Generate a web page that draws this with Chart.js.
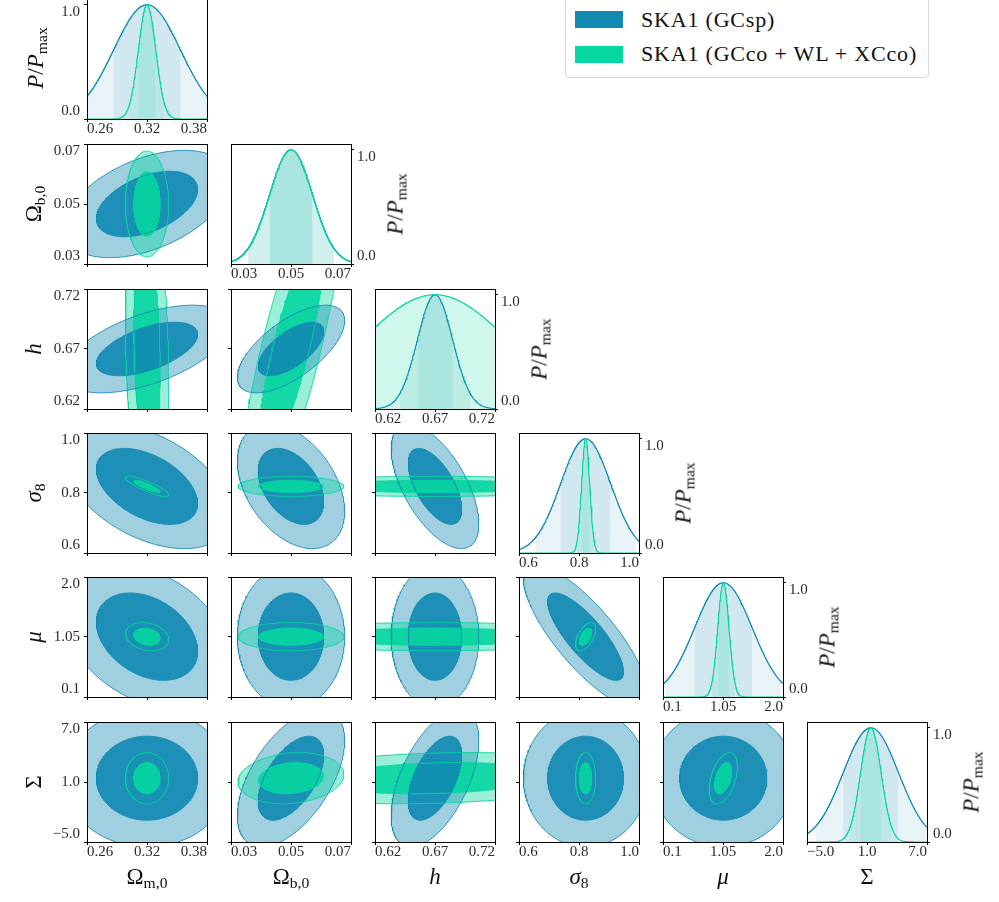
<!DOCTYPE html>
<html>
<head>
<meta charset="utf-8">
<script src="https://cdn.jsdelivr.net/npm/chart.js@4.4.1/dist/chart.umd.min.js"></script>
<style>
html,body{margin:0;padding:0;background:#fff;}
#root{position:relative;width:999px;height:902px;overflow:hidden;background:#fff;font-family:'Liberation Serif','DejaVu Serif',serif;}
#root canvas{position:absolute;}
.lbl{position:absolute;white-space:nowrap;font-size:23px;line-height:23px;color:#111;}
.lbl sub{font-size:0.68em;vertical-align:-0.28em;line-height:0;}
.bot{transform:translateX(-50%);}
.rot{transform:translate(-50%,-50%) rotate(-90deg);}
.legend{position:absolute;left:565px;top:-10px;width:364px;height:88px;box-sizing:border-box;border:1px solid #d6d6d6;border-radius:4px;background:#fff;}
.legend .item{position:absolute;left:9px;height:17px;width:48px;}
.legend .txt{position:absolute;left:75px;font-size:22px;line-height:22px;letter-spacing:0.8px;color:#111;white-space:nowrap;}
</style>
</head>
<body>
<div id="root"></div>
<script>
// ---------------- data ----------------
const paramLabelsHTML = ['Ω<sub>m,0</sub>', 'Ω<sub>b,0</sub>', '<i>h</i>', '<i>σ</i><sub>8</sub>', '<i>μ</i>', 'Σ'];
const tickLabels = [
  ['0.26', '0.32', '0.38'],
  ['0.03', '0.05', '0.07'],
  ['0.62', '0.67', '0.72'],
  ['0.6', '0.8', '1.0'],
  ['0.1', '1.05', '2.0'],
  ['\u22125.0', '1.0', '7.0']
];
const probTickLabels = ['0.0', '1.0'];
const probTickValues = [0, 1];
const fiducial = [0.32, 0.05, 0.67, 0.822, 1.055, 1.38];
const sigmaGCsp = [0.0334, 0.0072, 0.0147, 0.0835, 0.456, 2.77];
const sigmaCombo = [0.0087, 0.0071, 0.061, 0.0135, 0.09, 1.03];
const pairs = [[0,1],[0,2],[0,3],[0,4],[0,5],[1,2],[1,3],[1,4],[1,5],[2,3],[2,4],[2,5],[3,4],[3,5],[4,5]];
const rhoGCsp  = [0.45, 0.55, -0.45, -0.33, 0.0, 0.65, -0.4, 0.0, 0.55, -0.6, 0.0, 0.55, -0.8, 0.0, 0.0];
const rhoCombo = [0.0, -0.2, -0.85, -0.2, 0.0, 0.82, 0.0, 0.0, 0.15, 0.0, 0.0, 0.2, 0.55, 0.0, 0.45];
const surveyNames = ['SKA1 (GCsp)', 'SKA1 (GCco + WL + XCco)'];
const surveyColors = ['#118ab2', '#06d6a0'];
const chi2Levels = [2.30, 6.17];   // 68% and 95% for 2 parameters

// ---------------- layout ----------------
const COL_LEFT = [87, 231, 375, 519, 663, 807];
const ROW_TOP = [-1, 144, 289, 433, 577, 722];
const PW = 120, PH = 120;
const ML = 50, MR = 60, MT = 12, MB = 24;
const FONT = "'Liberation Serif','DejaVu Serif',serif";
const TICK_COLOR = '#2a2a2a';
const CLEAR = 'rgba(0,0,0,0)';

const surveys = [
  {sig: sigmaGCsp, rho: rhoGCsp, color: surveyColors[0]},
  {sig: sigmaCombo, rho: rhoCombo, color: surveyColors[1]}
];

function toNum(s) { return parseFloat(s.replace('\u2212', '-')); }
function rgba(hex, a) {
  const r = parseInt(hex.slice(1,3),16), g = parseInt(hex.slice(3,5),16), b = parseInt(hex.slice(5,7),16);
  return `rgba(${r},${g},${b},${a})`;
}
function rhoOf(s, i, j) {
  const a = Math.min(i,j), b = Math.max(i,j);
  for (let n = 0; n < pairs.length; n++) if (pairs[n][0] === a && pairs[n][1] === b) return s.rho[n];
  return 0;
}
function ellipsePoints(mx, my, sx, sy, rho, k) {
  const r = Math.sqrt(k), q = Math.sqrt(1 - rho*rho), N = 241, pts = [];
  for (let n = 0; n < N; n++) {
    const t = 2*Math.PI*n/(N-1), c = Math.cos(t), s = Math.sin(t);
    pts.push({x: mx + r*sx*c, y: my + r*sy*(rho*c + q*s)});
  }
  return pts;
}
function gaussPoints(m, s, a, b) {
  const N = 240, pts = [];
  for (let n = 0; n <= N; n++) {
    const x = a + (b - a)*n/N;
    pts.push({x: x, y: Math.exp(-0.5*((x-m)/s)*((x-m)/s))});
  }
  return pts;
}

const framePlugin = {
  id: 'frame',
  afterDatasetsDraw(chart) {
    const {ctx, chartArea: a} = chart;
    ctx.save();
    ctx.strokeStyle = '#000';
    ctx.lineWidth = 1;
    ctx.strokeRect(a.left + 0.5, a.top + 0.5, a.right - a.left, a.bottom - a.top);
    ctx.restore();
  }
};

function xScale(p, show) {
  const vals = tickLabels[p].map(toNum);
  return {
    type: 'linear', position: 'bottom', min: vals[0], max: vals[vals.length-1],
    afterBuildTicks: s => { s.ticks = vals.map(v => ({value: v})); },
    afterFit: s => { s.height = MB; s.paddingLeft = 0; s.paddingRight = 0; s.paddingTop = 0; s.paddingBottom = 0; },
    ticks: {autoSkip: false, maxRotation: 0, minRotation: 0, align: 'inner', padding: 0,
      color: TICK_COLOR, font: {family: FONT, size: 15, lineHeight: 1.0},
      callback: (v, idx) => show ? tickLabels[p][idx] : ''},
    grid: {display: true, drawOnChartArea: false, drawTicks: true, tickLength: 3, color: '#000', lineWidth: 1},
    border: {display: true, color: '#000', width: 1}
  };
}
function yScale(min, max, vals, labels, pos, show) {
  return {
    type: 'linear', position: pos, min: min, max: max,
    afterBuildTicks: s => { s.ticks = vals.map(v => ({value: v})); },
    afterFit: s => { s.width = (pos === 'left' ? ML : MR); s.paddingTop = 0; s.paddingBottom = 0; s.paddingLeft = 0; s.paddingRight = 0; },
    ticks: {autoSkip: false, padding: pos === 'left' ? 4 : 3,
      color: TICK_COLOR, font: {family: FONT, size: 15, lineHeight: 1.0},
      callback: (v, idx, arr) => {
        if (!show) return '';
        const L = labels[idx];
        if (idx === 0) return [L, ''];
        if (idx === arr.length - 1) return ['', L];
        return L;
      }},
    grid: {display: true, drawOnChartArea: false, drawTicks: true, tickLength: 3, color: '#000', lineWidth: 1},
    border: {display: true, color: '#000', width: 1}
  };
}

const root = document.getElementById('root');
function makeCanvas(col, row) {
  const c = document.createElement('canvas');
  const w = PW + ML + MR, h = PH + MT + MB;
  c.width = w; c.height = h;
  c.style.width = w + 'px'; c.style.height = h + 'px';
  c.style.left = (COL_LEFT[col] - ML) + 'px';
  c.style.top = (ROW_TOP[row] - MT) + 'px';
  root.appendChild(c);
  return c;
}
function baseOptions(scales, yPos) {
  return {
    responsive: false, animation: false, devicePixelRatio: 1, events: [],
    layout: {padding: yPos === 'left' ? {left: 0, right: MR, top: MT, bottom: 0} : {left: ML, right: 0, top: MT, bottom: 0}},
    plugins: {legend: {display: false}, tooltip: {enabled: false}},
    scales: scales
  };
}

// 1D marginal panels
function diagChart(p) {
  const vals = tickLabels[p].map(toNum);
  const a = vals[0], b = vals[vals.length-1];
  const datasets = [];
  for (let si = surveys.length - 1; si >= 0; si--) {   // top-most first
    const s = surveys[si], m = fiducial[p], sg = s.sig[p];
    datasets.push({data: gaussPoints(m, sg, a, b), borderColor: s.color, borderWidth: 1.2, fill: false, pointRadius: 0, tension: 0});
    for (const n of [1, 2]) {
      datasets.push({data: gaussPoints(m, sg, Math.max(a, m - n*sg), Math.min(b, m + n*sg)),
        borderWidth: 0, borderColor: CLEAR, backgroundColor: rgba(s.color, 0.1), fill: 'origin', pointRadius: 0, tension: 0});
    }
  }
  const yPos = p === 0 ? 'left' : 'right';
  new Chart(makeCanvas(p, p), {
    type: 'line',
    data: {datasets},
    options: baseOptions({x: xScale(p, true), y: yScale(0, 1.05, probTickValues, probTickLabels, yPos, true)}, yPos),
    plugins: [framePlugin]
  });
}

// 2D contour panels: x parameter i (column), y parameter j (row)
function pairChart(i, j) {
  const items = surveys.map(s => {
    const rho = rhoOf(s, i, j);
    return {s, rho, area: s.sig[i]*s.sig[j]*Math.sqrt(1 - rho*rho)};
  });
  items.sort((u, v) => u.area - v.area);   // smallest first => drawn on top
  const outlines = [], inner = [], outer = [];
  for (const it of items) {
    const s = it.s;
    const e1 = ellipsePoints(fiducial[i], fiducial[j], s.sig[i], s.sig[j], it.rho, chi2Levels[0]);
    const e2 = ellipsePoints(fiducial[i], fiducial[j], s.sig[i], s.sig[j], it.rho, chi2Levels[1]);
    outlines.push({data: e1, borderColor: s.color, borderWidth: 0.9, fill: false, pointRadius: 0, tension: 0});
    outlines.push({data: e2, borderColor: s.color, borderWidth: 0.9, fill: false, pointRadius: 0, tension: 0});
    inner.push({data: e1, borderColor: CLEAR, borderWidth: 0, backgroundColor: rgba(s.color, 0.9), fill: 'shape', pointRadius: 0, tension: 0});
    outer.push({data: e2, borderColor: CLEAR, borderWidth: 0, backgroundColor: rgba(s.color, 0.4), fill: 'shape', pointRadius: 0, tension: 0});
  }
  const datasets = [...outlines, ...inner, ...outer];
  const yv = tickLabels[j].map(toNum);
  new Chart(makeCanvas(i, j), {
    type: 'line',
    data: {datasets},
    options: baseOptions({x: xScale(i, j === 5), y: yScale(yv[0], yv[yv.length-1], yv, tickLabels[j], 'left', i === 0)}, 'left'),
    plugins: [framePlugin]
  });
}

for (let j = 0; j < 6; j++) {
  for (let i = 0; i <= j; i++) {
    if (i === j) diagChart(i); else pairChart(i, j);
  }
}

// ---------------- axis labels (text) ----------------
function addLabel(html, cls, left, top) {
  const d = document.createElement('div');
  d.className = 'lbl ' + cls;
  d.innerHTML = html;
  d.style.left = left + 'px';
  d.style.top = top + 'px';
  root.appendChild(d);
}
const probLabelHTML = '<i>P</i>/<i>P</i><sub>max</sub>';
for (let p = 0; p < 6; p++) {
  addLabel(paramLabelsHTML[p], 'bot', COL_LEFT[p] + PW/2, 865);
  if (p > 0) {
    addLabel(paramLabelsHTML[p], 'rot', 33, ROW_TOP[p] + PH/2);
    addLabel(probLabelHTML, 'rot', COL_LEFT[p] + PW + 44, ROW_TOP[p] + PH/2);
  }
}
addLabel(probLabelHTML, 'rot', 35, ROW_TOP[0] + PH/2 - 1);

// ---------------- legend ----------------
const lg = document.createElement('div');
lg.className = 'legend';
surveyNames.forEach((name, k) => {
  const sw = document.createElement('div');
  sw.className = 'item';
  sw.style.top = (20 + 35*k) + 'px';
  sw.style.background = surveyColors[k];
  lg.appendChild(sw);
  const t = document.createElement('div');
  t.className = 'txt';
  t.style.top = (18 + 34*k) + 'px';
  t.textContent = name;
  lg.appendChild(t);
});
root.appendChild(lg);
</script>
</body>
</html>
